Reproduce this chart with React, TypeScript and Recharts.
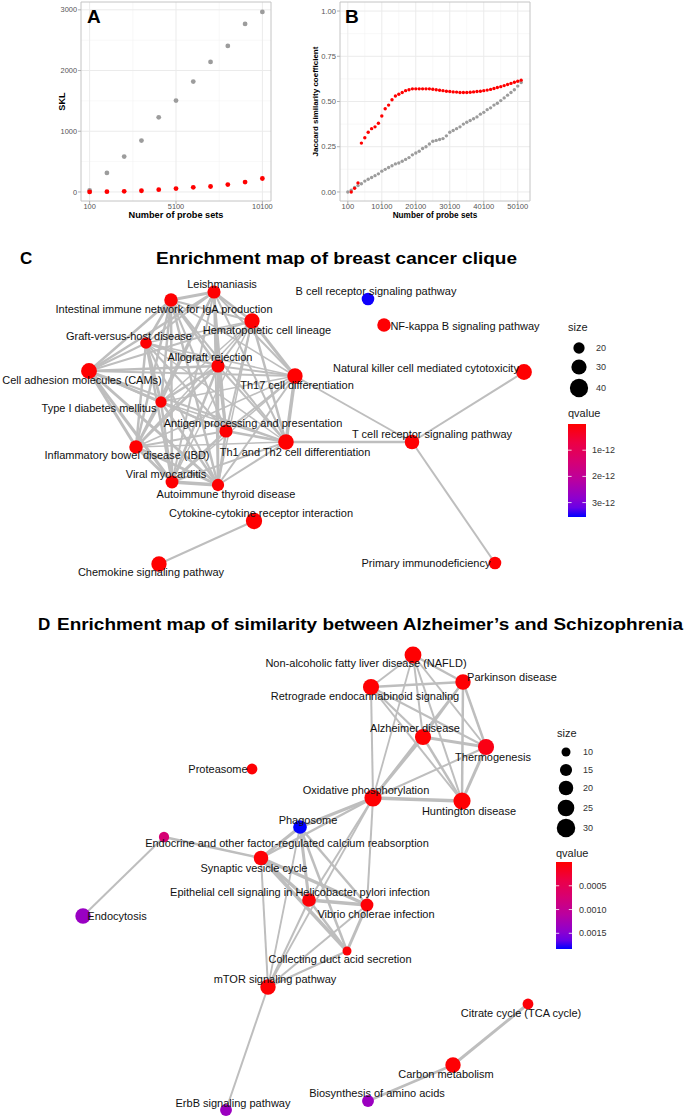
import React from 'react';
import { ScatterChart, Scatter, XAxis, YAxis, ZAxis, CartesianGrid, ReferenceArea } from 'recharts';

const FONT = '"Liberation Sans", Arial, Helvetica, sans-serif';
const EDGE = '#BEBEBE';

/* ---------- A: SKL vs number of probe sets ---------- */
const probeSetsA = [100, 1100, 2100, 3100, 4100, 5100, 6100, 7100, 8100, 9100, 10100];
const sklRandom = [25, 313, 582, 846, 1230, 1505, 1818, 2142, 2405, 2768, 2965];
const sklClique = [0, 5, 10, 20, 38, 55, 77, 90, 122, 162, 222];
const ticksAX = [100, 5100, 10100];
const minorAX = [2600, 7600];
const ticksAY = [0, 1000, 2000, 3000];
const minorAY = [500, 1500, 2500];

/* ---------- B: Jaccard similarity ---------- */
const probeSetsB = [
  100, 1100, 2100, 3100, 4100, 5100, 6100, 7100, 8100, 9100,
  10100, 11100, 12100, 13100, 14100, 15100, 16100, 17100, 18100, 19100,
  20100, 21100, 22100, 23100, 24100, 25100, 26100, 27100, 28100, 29100,
  30100, 31100, 32100, 33100, 34100, 35100, 36100, 37100, 38100, 39100,
  40100, 41100, 42100, 43100, 44100, 45100, 46100, 47100, 48100, 49100,
  50100, 51100,
];
const jaccardRandom = [
  0.0, 0.01, 0.025, 0.035, 0.045, 0.06, 0.07, 0.08, 0.09, 0.1,
  0.115, 0.125, 0.135, 0.145, 0.155, 0.16, 0.17, 0.18, 0.19, 0.205,
  0.215, 0.225, 0.24, 0.25, 0.265, 0.28, 0.285, 0.29, 0.295, 0.31,
  0.33, 0.34, 0.35, 0.36, 0.375, 0.385, 0.395, 0.405, 0.415, 0.43,
  0.44, 0.455, 0.465, 0.48, 0.49, 0.505, 0.52, 0.535, 0.55, 0.565,
  0.585, 0.605,
];
const jaccardClique = [
  null, 0.0, 0.02, 0.05, 0.27, 0.3, 0.33, 0.35, 0.36, 0.38,
  0.42, 0.46, 0.48, 0.51, 0.53, 0.54, 0.55, 0.56, 0.565, 0.57,
  0.57, 0.57, 0.57, 0.57, 0.57, 0.568, 0.565, 0.562, 0.56, 0.557,
  0.555, 0.553, 0.552, 0.55, 0.55, 0.55, 0.551, 0.553, 0.555, 0.557,
  0.56, 0.563, 0.567, 0.572, 0.577, 0.582, 0.588, 0.594, 0.6, 0.606,
  0.612, 0.618,
];
const ticksBX = [100, 10100, 20100, 30100, 40100, 50100];
const minorBX = [5100, 15100, 25100, 35100, 45100];
const ticksBY = [0, 0.25, 0.5, 0.75, 1];
const minorBY = [0.125, 0.375, 0.625, 0.875];

/* ---------- C: breast cancer clique network ---------- */
// [id, pathway, layoutX, layoutY, gene count, qvalue]
const cNodes: [string, string, number, number, number, number][] = [
  ['lei', 'Leishmaniasis', 214, 292, 19, 2e-14],
  ['iin', 'Intestinal immune network for IgA production', 171, 300, 20, 2e-14],
  ['bcr', 'B cell receptor signaling pathway', 368, 299, 17, 3.5e-12],
  ['hem', 'Hematopoietic cell lineage', 252, 321, 27, 1e-14],
  ['nfk', 'NF-kappa B signaling pathway', 384, 325, 20, 3e-14],
  ['gvh', 'Graft-versus-host disease', 146, 343, 14, 2e-14],
  ['all', 'Allograft rejection', 218, 366, 19, 2e-14],
  ['cam', 'Cell adhesion molecules (CAMs)', 89, 371, 29, 1e-14],
  ['t17', 'Th17 cell differentiation', 295, 376, 27, 1e-14],
  ['nkc', 'Natural killer cell mediated cytotoxicity', 524, 372, 29, 1e-14],
  ['t1d', 'Type I diabetes mellitus', 161, 402, 13, 2e-14],
  ['agp', 'Antigen processing and presentation', 226, 431, 19, 2e-14],
  ['t12', 'Th1 and Th2 cell differentiation', 286, 442, 28, 1e-14],
  ['tcr', 'T cell receptor signaling pathway', 412, 442, 24, 1e-14],
  ['ibd', 'Inflammatory bowel disease (IBD)', 136, 447, 20, 1e-14],
  ['vmy', 'Viral myocarditis', 172, 482, 18, 2e-14],
  ['aut', 'Autoimmune thyroid disease', 218, 485, 16, 2e-14],
  ['cyt', 'Cytokine-cytokine receptor interaction', 254, 521, 31, 1e-14],
  ['che', 'Chemokine signaling pathway', 159, 564, 27, 1e-14],
  ['pid', 'Primary immunodeficiency', 495, 563, 17, 2e-14],
];
const cLabels: [string, number, number][] = [
  ['lei', 222, 284], ['iin', 164, 309], ['bcr', 376, 291], ['hem', 267, 330],
  ['nfk', 465, 326], ['gvh', 129, 336], ['all', 210, 357], ['cam', 82, 380],
  ['t17', 297, 385], ['nkc', 426, 368], ['t1d', 99, 408], ['agp', 253, 423],
  ['t12', 295, 452], ['tcr', 432, 434], ['ibd', 127, 455], ['vmy', 166, 474],
  ['aut', 226, 494], ['cyt', 261, 513], ['che', 151, 572], ['pid', 426, 563],
];
const cEdges: [string, string, number][] = [
  ['lei', 'iin', 3], ['lei', 'hem', 2.5], ['lei', 'gvh', 2], ['lei', 'all', 2.5], ['lei', 'cam', 2.5],
  ['lei', 't17', 2], ['lei', 't1d', 2], ['lei', 'agp', 2], ['lei', 't12', 2], ['lei', 'ibd', 2.5],
  ['lei', 'vmy', 2], ['lei', 'aut', 2],
  ['iin', 'hem', 2], ['iin', 'gvh', 2.5], ['iin', 'all', 2.5], ['iin', 'cam', 2.5], ['iin', 't17', 1.5],
  ['iin', 't1d', 2.5], ['iin', 'agp', 2], ['iin', 't12', 2], ['iin', 'ibd', 2.5], ['iin', 'vmy', 2.5],
  ['iin', 'aut', 2.5],
  ['hem', 'gvh', 1.5], ['hem', 'all', 2], ['hem', 'cam', 2], ['hem', 't17', 3], ['hem', 't1d', 1.5],
  ['hem', 'agp', 2], ['hem', 't12', 2.5], ['hem', 'ibd', 1.5], ['hem', 'vmy', 1.5], ['hem', 'aut', 1.5],
  ['gvh', 'all', 2.5], ['gvh', 'cam', 2], ['gvh', 't17', 1.5], ['gvh', 't1d', 3], ['gvh', 'agp', 2],
  ['gvh', 't12', 1.5], ['gvh', 'ibd', 2.5], ['gvh', 'vmy', 2.5], ['gvh', 'aut', 2],
  ['all', 'cam', 2.5], ['all', 't17', 2], ['all', 't1d', 2.5], ['all', 'agp', 3], ['all', 't12', 2],
  ['all', 'ibd', 2.5], ['all', 'vmy', 2.5], ['all', 'aut', 2.5],
  ['cam', 't17', 2], ['cam', 't1d', 2.5], ['cam', 'agp', 2], ['cam', 't12', 2], ['cam', 'ibd', 3],
  ['cam', 'vmy', 3], ['cam', 'aut', 3],
  ['t17', 't1d', 1.5], ['t17', 'agp', 2], ['t17', 't12', 3.5], ['t17', 'ibd', 1.5], ['t17', 'vmy', 1.5],
  ['t17', 'aut', 2],
  ['t1d', 'agp', 2], ['t1d', 't12', 1.5], ['t1d', 'ibd', 2.5], ['t1d', 'vmy', 2.5], ['t1d', 'aut', 2.5],
  ['agp', 't12', 2.5], ['agp', 'ibd', 2], ['agp', 'vmy', 2.5], ['agp', 'aut', 2.5],
  ['t12', 'ibd', 1.5], ['t12', 'vmy', 2], ['t12', 'aut', 2],
  ['ibd', 'vmy', 3], ['ibd', 'aut', 3], ['vmy', 'aut', 3.5],
  ['t17', 'tcr', 2], ['t12', 'tcr', 2.5], ['tcr', 'nkc', 2], ['tcr', 'pid', 2], ['cyt', 'che', 2],
];
const cSizeBreaks = [20, 30, 40];
const cQTicks = [1e-12, 2e-12, 3e-12];
const cQLabels = ['1e-12', '2e-12', '3e-12'];

/* ---------- D: Alzheimer's / Schizophrenia network ---------- */
const dNodes: [string, string, number, number, number, number][] = [
  ['naf', 'Non-alcoholic fatty liver disease (NAFLD)', 413, 655, 25, 1e-5],
  ['par', 'Parkinson disease', 463, 682, 21, 2e-5],
  ['ret', 'Retrograde endocannabinoid signaling', 371, 687, 23, 1e-5],
  ['alz', 'Alzheimer disease', 423, 737, 23, 1e-5],
  ['the', 'Thermogenesis', 486, 747, 23, 1.1e-4],
  ['pro', 'Proteasome', 252, 769, 11, 2e-5],
  ['oxp', 'Oxidative phosphorylation', 373, 798, 26, 1e-5],
  ['hun', 'Huntington disease', 462, 801, 26, 1e-5],
  ['pha', 'Phagosome', 300, 827, 17, 1.83e-3],
  ['end', 'Endocrine and other factor-regulated calcium reabsorption', 164, 837, 10, 7.5e-4],
  ['syn', 'Synaptic vesicle cycle', 261, 858, 19, 3e-5],
  ['epi', 'Epithelial cell signaling in Helicobacter pylori infection', 309, 900, 17, 3e-5],
  ['vib', 'Vibrio cholerae infection', 367, 905, 15, 3e-5],
  ['ecy', 'Endocytosis', 83, 916, 21, 1.37e-3],
  ['col', 'Collecting duct acid secretion', 347, 951, 8, 3e-5],
  ['mto', 'mTOR signaling pathway', 268, 987, 21, 2e-5],
  ['cit', 'Citrate cycle (TCA cycle)', 528, 1004, 11, 4e-5],
  ['car', 'Carbon metabolism', 453, 1065, 21, 2e-5],
  ['bio', 'Biosynthesis of amino acids', 368, 1101, 13, 1.35e-3],
  ['erb', 'ErbB signaling pathway', 226, 1110, 13, 1.35e-3],
];
const dLabels: [string, number, number][] = [
  ['naf', 366, 663], ['par', 512, 677], ['ret', 365, 696], ['alz', 415, 728],
  ['the', 493, 757], ['pro', 218, 769], ['oxp', 366, 790], ['hun', 469, 811],
  ['pha', 308, 820], ['end', 287, 843], ['syn', 254, 868], ['epi', 300, 892],
  ['vib', 376, 914], ['ecy', 117, 916], ['col', 340, 959], ['mto', 275, 979],
  ['cit', 521, 1013], ['car', 446, 1074], ['bio', 377, 1093], ['erb', 233, 1103],
];
const dEdges: [string, string, number][] = [
  ['naf', 'ret', 2], ['naf', 'par', 2.5], ['naf', 'alz', 2], ['naf', 'hun', 2], ['naf', 'the', 2], ['naf', 'oxp', 1.8],
  ['ret', 'par', 2.5], ['ret', 'alz', 2.2], ['ret', 'the', 2], ['ret', 'hun', 2], ['ret', 'oxp', 2],
  ['par', 'alz', 2.2], ['par', 'the', 2.5], ['par', 'hun', 2.5], ['par', 'oxp', 2],
  ['alz', 'the', 3], ['alz', 'hun', 2.5], ['alz', 'oxp', 3],
  ['the', 'hun', 3], ['the', 'oxp', 2], ['oxp', 'hun', 3.5],
  ['oxp', 'pha', 3], ['oxp', 'syn', 2.5], ['oxp', 'epi', 2], ['oxp', 'vib', 2], ['oxp', 'mto', 1.8],
  ['pha', 'syn', 3], ['pha', 'epi', 3], ['pha', 'vib', 2.5], ['pha', 'col', 2.5], ['pha', 'mto', 1.8],
  ['syn', 'epi', 3.5], ['syn', 'vib', 3.5], ['syn', 'col', 3.5], ['syn', 'mto', 2], ['syn', 'end', 2.5],
  ['end', 'ecy', 2],
  ['epi', 'vib', 3.5], ['epi', 'col', 2.5], ['epi', 'mto', 2],
  ['vib', 'col', 3], ['vib', 'mto', 2], ['col', 'mto', 2],
  ['mto', 'erb', 2], ['car', 'cit', 3], ['car', 'bio', 2.5],
];
const dSizeBreaks = [10, 15, 20, 25, 30];
const dQTicks = [0.0005, 0.001, 0.0015];
const dQLabels = ['0.0005', '0.0010', '0.0015'];

/* ---------- helpers ---------- */
const RAMP: [number, string][] = [
  [0, '#FF0000'], [0.2, '#ED0044'], [0.4, '#D70072'], [0.6, '#BA009F'],
  [0.8, '#8D00CF'], [0.9, '#6800E7'], [1, '#0000FF'],
];
const hex = (h: string) => [1, 3, 5].map((i) => parseInt(h.slice(i, i + 2), 16));
function qColor(t: number) {
  const v = Math.max(0, Math.min(1, t));
  for (let i = 1; i < RAMP.length; i++) {
    if (v <= RAMP[i][0]) {
      const [t0, c0] = RAMP[i - 1];
      const [t1, c1] = RAMP[i];
      const f = (v - t0) / (t1 - t0);
      const a = hex(c0), b = hex(c1);
      const m = a.map((x, k) => Math.round(x + (b[k] - x) * f));
      return `rgb(${m[0]},${m[1]},${m[2]})`;
    }
  }
  return RAMP[RAMP.length - 1][1];
}
const radiusFor = (v: number, dom: number[], rng: number[]) =>
  Math.sqrt((rng[0] + ((v - dom[0]) / (dom[1] - dom[0])) * (rng[1] - rng[0])) / Math.PI);

const zip = (xs: number[], ys: (number | null)[]) =>
  xs.map((x, i) => ({ x, y: ys[i] })).filter((p) => p.y !== null);

const noShape = () => <g />;

/* ---------- scatter panels A / B ---------- */
function ProbeChart(props: any) {
  const { width, right, yAxisWidth, xDomain, yDomain, xTicks, xMinor, yTicks, yMinor, tickFont, yFmt, grey, red, dotR } = props;
  const dot = (fill: string) => (p: any) => <circle cx={p.cx} cy={p.cy} r={dotR} fill={fill} />;
  const tick = { fontSize: tickFont, fill: '#555555', stroke: 'none', fontFamily: FONT };
  return (
    <ScatterChart width={width} height={225} margin={{ top: 2, right, bottom: 0, left: 0 }}>
      <CartesianGrid stroke="#F3F3F3" strokeWidth={0.6} verticalValues={xMinor} horizontalValues={yMinor} />
      <CartesianGrid stroke="#EBEBEB" strokeWidth={1} verticalValues={xTicks} horizontalValues={yTicks} />
      <XAxis type="number" dataKey="x" domain={xDomain} ticks={xTicks} interval={0} allowDataOverflow stroke="#B3B3B3"
        height={24} axisLine={false} tickSize={3} tickMargin={0} tickLine={{ stroke: '#B3B3B3' }} tick={tick} />
      <YAxis type="number" dataKey="y" domain={yDomain} ticks={yTicks} interval={0} allowDataOverflow stroke="#B3B3B3"
        width={yAxisWidth} axisLine={false} tickSize={3} tickMargin={1} tickLine={{ stroke: '#B3B3B3' }} tick={tick}
        tickFormatter={yFmt} />
      <ReferenceArea x1={xDomain[0]} x2={xDomain[1]} y1={yDomain[0]} y2={yDomain[1]} fill="none" stroke="#C4C4C4" strokeWidth={1} />
      <Scatter data={grey} shape={dot('#9C9C9C')} isAnimationActive={false} />
      <Scatter data={red} shape={dot('#FF0000')} isAnimationActive={false} />
    </ScatterChart>
  );
}

/* ---------- network panels C / D ---------- */
function NetworkChart(props: any) {
  const { top, height, nodes, labels, edges, sizeDomain, sizeRange, qMax } = props;
  const byId: Record<string, any[]> = {};
  nodes.forEach((n: any[]) => { byId[n[0]] = n; });
  const nodeData = nodes.map((n: any[]) => ({ x: n[2], y: n[3], size: n[4], q: n[5] }));
  const labelData = labels.map((l: any[]) => ({ x: l[1], y: l[2], name: byId[l[0]][1] }));
  const nodeShape = (p: any) => {
    const r = p.size ? Math.sqrt(p.size / Math.PI) : (p.width || 8) / 2;
    return <circle cx={p.cx} cy={p.cy} r={r} fill={qColor(p.payload.q / qMax)} />;
  };
  const labelShape = (p: any) => (
    <text x={p.cx} y={p.cy} textAnchor="middle" dominantBaseline="central" fontSize={11}
      fontFamily={FONT} fill="#111">{p.payload.name}</text>
  );
  return (
    <ScatterChart width={600} height={height} margin={{ top: 0, right: 0, bottom: 0, left: 0 }}>
      <XAxis type="number" dataKey="x" domain={[0, 600]} hide />
      <YAxis type="number" dataKey="y" domain={[top, top + height]} reversed hide />
      <ZAxis type="number" dataKey="size" domain={sizeDomain} range={sizeRange} />
      {edges.map((e: any[], i: number) => (
        <Scatter key={'e' + i}
          data={[{ x: byId[e[0]][2], y: byId[e[0]][3] }, { x: byId[e[1]][2], y: byId[e[1]][3] }]}
          line={{ stroke: EDGE, strokeWidth: e[2] }} shape={noShape} isAnimationActive={false} />
      ))}
      <Scatter data={nodeData} shape={nodeShape} isAnimationActive={false} />
      <Scatter data={labelData} shape={labelShape} isAnimationActive={false} />
    </ScatterChart>
  );
}

/* ---------- legends ---------- */
function SizeLegend({ x, titleY, cx, ys, breaks, labelX, dom, rng }: any) {
  return (
    <g fontFamily={FONT}>
      <text x={x} y={titleY} dominantBaseline="central" fontSize={11} fill="#1A1A1A">size</text>
      {breaks.map((b: number, i: number) => (
        <g key={b}>
          <circle cx={cx} cy={ys[i]} r={radiusFor(b, dom, rng)} fill="#000" />
          <text x={labelX} y={ys[i]} dominantBaseline="central" fontSize={9} fill="#333">{b}</text>
        </g>
      ))}
    </g>
  );
}

function QLegend({ id, x, titleY, top, w, h, qMax, ticks, labels, labelX }: any) {
  return (
    <g fontFamily={FONT}>
      <defs>
        <linearGradient id={id} x1="0" y1="0" x2="0" y2="1">
          {RAMP.map(([t, c]) => <stop key={t} offset={t} stopColor={c} />)}
        </linearGradient>
      </defs>
      <text x={x} y={titleY} dominantBaseline="central" fontSize={11} fill="#1A1A1A">qvalue</text>
      <rect x={x} y={top} width={w} height={h} fill={`url(#${id})`} />
      {ticks.map((t: number, i: number) => {
        const y = top + (t / qMax) * h;
        return (
          <g key={t}>
            <line x1={x} x2={x + w / 5} y1={y} y2={y} stroke="#fff" strokeWidth={0.8} />
            <line x1={x + w - w / 5} x2={x + w} y1={y} y2={y} stroke="#fff" strokeWidth={0.8} />
            <text x={labelX} y={y} dominantBaseline="central" fontSize={9} fill="#333">{labels[i]}</text>
          </g>
        );
      })}
    </g>
  );
}

const C_SIZE_DOM = [20, 40];
const C_SIZE_RNG = [100, 263];
const D_SIZE_DOM = [10, 30];
const D_SIZE_RNG = [64, 269];
const C_QMAX = 3.55e-12;
const D_QMAX = 0.00183;

export default function App() {
  const boldTitle = { fontFamily: FONT, fontWeight: 700, fill: '#000' } as const;
  return (
    <div style={{ position: 'absolute', left: 0, top: 0, width: 685, height: 1118, background: '#fff', overflow: 'hidden' }}>
      <div style={{ position: 'absolute', left: 0, top: 0 }}>
        <ProbeChart width={275} right={4} yAxisWidth={81} xDomain={[-400, 10600]} yDomain={[-149, 3129]}
          xTicks={ticksAX} xMinor={minorAX} yTicks={ticksAY} yMinor={minorAY} tickFont={7.4}
          yFmt={(v: number) => String(v)} grey={zip(probeSetsA, sklRandom)} red={zip(probeSetsA, sklClique)} dotR={2.4} />
      </div>
      <div style={{ position: 'absolute', left: 280, top: 0 }}>
        <ProbeChart width={255} right={5} yAxisWidth={60} xDomain={[-2200, 53700]} yDomain={[-0.05, 1.05]}
          xTicks={ticksBX} xMinor={minorBX} yTicks={ticksBY} yMinor={minorBY} tickFont={7.6}
          yFmt={(v: number) => v.toFixed(2)} grey={zip(probeSetsB, jaccardRandom)} red={zip(probeSetsB, jaccardClique)} dotR={1.7} />
      </div>
      <div style={{ position: 'absolute', left: 0, top: 270 }}>
        <NetworkChart top={270} height={330} nodes={cNodes} labels={cLabels} edges={cEdges}
          sizeDomain={C_SIZE_DOM} sizeRange={C_SIZE_RNG} qMax={C_QMAX} />
      </div>
      <div style={{ position: 'absolute', left: 0, top: 640 }}>
        <NetworkChart top={640} height={478} nodes={dNodes} labels={dLabels} edges={dEdges}
          sizeDomain={D_SIZE_DOM} sizeRange={D_SIZE_RNG} qMax={D_QMAX} />
      </div>
      <svg width={685} height={1118} style={{ position: 'absolute', left: 0, top: 0, pointerEvents: 'none' }}>
        {/* panel letters and axis titles */}
        <text x={87} y={16} dominantBaseline="central" fontSize={19} {...boldTitle}>A</text>
        <text x={345} y={16.5} dominantBaseline="central" fontSize={19} {...boldTitle}>B</text>
        <text x={176} y={215} textAnchor="middle" dominantBaseline="central" fontSize={9.2} {...boldTitle}>Number of probe sets</text>
        <text x={62} y={101.5} textAnchor="middle" dominantBaseline="central" fontSize={9.2}
          transform="rotate(-90, 62, 101.5)" {...boldTitle}>SKL</text>
        <text x={435} y={215} textAnchor="middle" dominantBaseline="central" fontSize={8.2} {...boldTitle}>Number of probe sets</text>
        <text x={315} y={101.5} textAnchor="middle" dominantBaseline="central" fontSize={8}
          transform="rotate(-90, 315, 101.5)" {...boldTitle}>Jaccard similarity coefficient</text>

        <text x={20} y={258} dominantBaseline="central" fontSize={17} {...boldTitle}>C</text>
        <text x={156} y={258} dominantBaseline="central" fontSize={17} textLength={361} lengthAdjust="spacingAndGlyphs" {...boldTitle}>
          Enrichment map of breast cancer clique
        </text>
        <text x={38} y={624} dominantBaseline="central" fontSize={17} {...boldTitle}>D</text>
        <text x={57} y={624} dominantBaseline="central" fontSize={17} textLength={626} lengthAdjust="spacingAndGlyphs" {...boldTitle}>
          Enrichment map of similarity between Alzheimer’s and Schizophrenia
        </text>

        <SizeLegend x={568} titleY={327} cx={579} ys={[348, 367, 388]} breaks={cSizeBreaks} labelX={596}
          dom={C_SIZE_DOM} rng={C_SIZE_RNG} />
        <QLegend id="qc" x={568} titleY={413} top={424} w={18} h={93} qMax={C_QMAX} ticks={cQTicks}
          labels={cQLabels} labelX={592} />
        <SizeLegend x={557} titleY={733} cx={566} ys={[752, 770, 788, 808, 828]} breaks={dSizeBreaks} labelX={583}
          dom={D_SIZE_DOM} rng={D_SIZE_RNG} />
        <QLegend id="qd" x={556} titleY={853} top={862} w={16} h={87} qMax={D_QMAX} ticks={dQTicks}
          labels={dQLabels} labelX={579} />
      </svg>
    </div>
  );
}
